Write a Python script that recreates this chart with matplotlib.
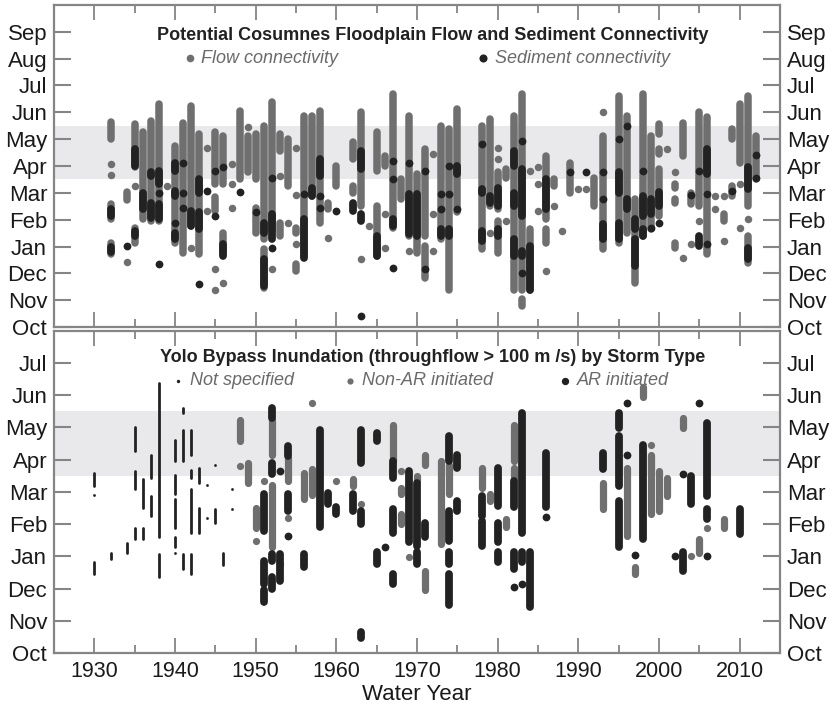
import matplotlib.pyplot as plt
from matplotlib.ticker import MultipleLocator

plt.rcParams["font.family"] = ["Liberation Sans", "DejaVu Sans"]

GRAY = "#6f6f6f"
BLACK = "#222222"
BAND = "#e9e9eb"
FRAME = "#858585"

months = ["Oct", "Nov", "Dec", "Jan", "Feb", "Mar",
          "Apr", "May", "Jun", "Jul", "Aug", "Sep"]

# Cosumnes floodplain: (water year, start, end) in months after 1 Oct,
# single days as (water year, month)
flow_spans = [
    (1932, 7.0, 7.65), (1932, 4.02, 4.58), (1932, 2.71, 3.15),
    (1934, 4.74, 5.04), (1935, 5.95, 7.56), (1935, 3.15, 3.71),
    (1936, 4.02, 7.25), (1937, 3.95, 7.69), (1938, 3.95, 8.31),
    (1940, 3.15, 6.75), (1941, 2.77, 7.62), (1942, 3.77, 8.25),
    (1943, 2.71, 7.19), (1945, 5.32, 7.25), (1945, 4.33, 4.83),
    (1946, 5.32, 7.13), (1946, 2.77, 3.52), (1948, 5.51, 8.06),
    (1949, 5.76, 7.13), (1950, 5.51, 7.19), (1950, 3.52, 4.45),
    (1951, 3.27, 7.5), (1951, 1.47, 2.9), (1952, 3.6, 8.4),
    (1953, 6.57, 7.19), (1953, 3.4, 3.89), (1954, 5.26, 7.0),
    (1955, 3.52, 3.71), (1955, 2.09, 2.34), (1956, 2.65, 7.87),
    (1957, 4.89, 7.87), (1958, 3.89, 8.06), (1959, 4.39, 4.64),
    (1960, 5.26, 6.0), (1962, 6.26, 6.88), (1962, 5.0, 5.26),
    (1963, 4.52, 8.0), (1965, 5.82, 7.25), (1965, 2.65, 4.52),
    (1966, 6.0, 6.38), (1967, 3.71, 8.7), (1968, 4.76, 5.51),
    (1969, 3.4, 7.87), (1970, 2.77, 5.7), (1971, 3.4, 6.63),
    (1971, 1.84, 3.02), (1973, 3.27, 7.5), (1974, 1.4, 7.38),
    (1975, 4.27, 8.12), (1978, 2.9, 7.5), (1979, 4.52, 7.75),
    (1980, 4.39, 5.76), (1980, 2.77, 3.95), (1981, 5.57, 5.88),
    (1982, 1.4, 7.87), (1983, 1.4, 8.7), (1983, 0.78, 1.03),
    (1984, 1.4, 3.64), (1986, 4.02, 6.38), (1986, 3.15, 3.64),
    (1987, 5.26, 5.51), (1989, 5.0, 6.13), (1992, 4.52, 5.57),
    (1993, 2.9, 7.13), (1995, 3.15, 8.62), (1996, 3.52, 7.87),
    (1997, 1.65, 4.76), (1998, 3.4, 8.7), (1999, 3.64, 7.13),
    (2000, 7.19, 7.56), (2000, 6.44, 6.63), (2000, 4.14, 5.88),
    (2002, 5.2, 5.32), (2002, 4.64, 4.76), (2002, 2.96, 3.15),
    (2003, 6.38, 7.62), (2004, 4.58, 5.0), (2005, 4.52, 8.0),
    (2006, 2.71, 7.81), (2008, 3.95, 4.2), (2009, 7.0, 7.38),
    (2009, 4.89, 5.26), (2010, 6.13, 8.31), (2011, 4.52, 8.62),
    (2011, 2.4, 3.4), (2012, 5.51, 7.13),
]
flow_days = [
    (1932, 6.07), (1932, 5.67), (1934, 2.44), (1935, 5.26), (1939, 5.26),
    (1942, 2.96), (1944, 6.67), (1944, 4.33), (1945, 2.15), (1945, 1.4),
    (1946, 1.65), (1947, 6.07), (1947, 5.32), (1947, 4.45), (1949, 7.44),
    (1952, 2.15), (1953, 5.63), (1954, 3.89), (1955, 6.69), (1955, 4.91),
    (1955, 3.08), (1959, 3.33), (1963, 2.52), (1964, 3.77), (1966, 4.2),
    (1966, 2.96), (1969, 2.84), (1972, 6.44), (1972, 4.2), (1972, 2.84),
    (1979, 3.52), (1980, 6.69), (1980, 6.26), (1981, 3.95), (1984, 5.8),
    (1985, 5.95), (1985, 5.32), (1985, 4.33), (1986, 2.09), (1987, 4.52),
    (1988, 3.58), (1990, 5.14), (1991, 5.14), (1993, 8.0), (2001, 6.65),
    (2002, 5.76), (2003, 2.56), (2004, 3.08), (2005, 3.95), (2007, 4.89),
    (2007, 4.39), (2008, 4.89), (2008, 3.21), (2010, 5.32), (2010, 3.71),
    (2011, 4.02),
]
sediment_spans = [
    (1932, 4.14, 4.4), (1932, 2.8, 3.0), (1935, 6.0, 6.63), (1935, 3.4, 3.58),
    (1936, 4.39, 5.0), (1937, 5.63, 5.76), (1937, 4.08, 4.64),
    (1938, 5.32, 5.82), (1938, 4.02, 4.58), (1940, 5.82, 6.13),
    (1940, 4.89, 5.07), (1940, 3.27, 3.52), (1942, 3.77, 4.33),
    (1943, 5.0, 5.51), (1943, 3.64, 4.27), (1946, 2.65, 3.08),
    (1951, 3.52, 3.89), (1951, 1.53, 2.52), (1952, 3.3, 4.2),
    (1956, 2.59, 4.02), (1957, 4.89, 5.2), (1958, 5.63, 6.26),
    (1962, 4.33, 4.64), (1963, 5.88, 6.57), (1963, 3.95, 4.2),
    (1965, 2.65, 3.4), (1967, 3.77, 4.02), (1969, 3.46, 4.95),
    (1970, 3.4, 4.95), (1973, 3.4, 3.64), (1974, 3.4, 3.64),
    (1975, 5.7, 6.01), (1978, 5.0, 5.14), (1978, 3.21, 3.58),
    (1979, 4.64, 4.89), (1980, 4.52, 5.2), (1980, 3.4, 3.64),
    (1982, 6.01, 6.57), (1982, 4.52, 5.0), (1982, 2.65, 3.27),
    (1983, 4.14, 5.88), (1983, 2.65, 2.84), (1984, 1.4, 3.02),
    (1986, 4.39, 5.51), (1993, 3.27, 3.83), (1995, 5.0, 5.76),
    (1995, 3.27, 3.89), (1996, 4.39, 4.76), (1997, 3.64, 4.02),
    (1997, 2.28, 3.27), (1998, 4.14, 4.89), (1998, 3.4, 3.64),
    (1999, 4.2, 4.76), (2000, 4.52, 5.02), (2005, 3.02, 3.4),
    (2006, 5.7, 6.63), (2011, 5.14, 5.95), (2011, 2.52, 2.96),
]
sediment_days = [
    (1934, 3.02), (1938, 5.0), (1938, 2.34), (1940, 3.89), (1941, 6.1),
    (1941, 5.0), (1941, 4.45), (1943, 1.59), (1944, 5.07), (1945, 5.82),
    (1945, 4.14), (1946, 5.95), (1948, 5.05), (1950, 4.27), (1952, 5.57),
    (1952, 2.95), (1956, 4.95), (1958, 4.89), (1958, 4.45), (1960, 4.33),
    (1963, 0.43), (1967, 6.19), (1967, 5.51), (1967, 2.21), (1969, 6.13),
    (1971, 5.82), (1971, 2.15), (1973, 4.95), (1973, 4.39), (1974, 6.01),
    (1974, 4.95), (1975, 4.39), (1978, 6.82), (1983, 6.94), (1983, 2.03),
    (1989, 5.78), (1991, 5.78), (1993, 5.78), (1993, 4.76), (1995, 7.0),
    (1996, 7.5), (1998, 5.82), (1999, 3.71), (2000, 3.86), (2004, 4.91),
    (2005, 5.82), (2006, 4.95), (2006, 3.08), (2009, 5.07), (2012, 6.41),
    (2012, 5.57),
]

# Yolo Bypass inundation by storm type
unspecified_spans = [
    (1930, 5.18, 5.59), (1930, 2.45, 2.81), (1932, 2.92, 3.09),
    (1934, 3.09, 3.4), (1935, 6.26, 7.03), (1935, 5.08, 5.64),
    (1935, 3.53, 3.89), (1936, 4.51, 5.39), (1936, 3.53, 3.89),
    (1937, 5.44, 6.16), (1937, 4.25, 4.87), (1938, 3.59, 8.37),
    (1938, 2.36, 3.08), (1940, 5.95, 6.62), (1940, 4.92, 5.54),
    (1940, 3.89, 4.77), (1940, 3.28, 3.59), (1941, 7.44, 7.62),
    (1941, 5.95, 6.93), (1941, 2.61, 3.07), (1942, 6.16, 6.93),
    (1942, 5.44, 5.69), (1942, 3.74, 5.08), (1942, 2.45, 3.07),
    (1943, 5.28, 5.75), (1943, 3.74, 4.51), (1945, 4.05, 4.46),
    (1946, 2.72, 3.1),
]
unspecified_days = [
    (1930, 4.9), (1940, 3.09), (1944, 5.2), (1944, 4.19), (1945, 5.85),
    (1947, 5.08), (1947, 4.46),
]
non_ar_spans = [
    (1948, 6.57, 7.24), (1949, 5.29, 5.91), (1950, 3.89, 4.51),
    (1952, 6.16, 7.24), (1952, 3.28, 5.23), (1954, 5.34, 6.06),
    (1956, 4.77, 5.59), (1957, 4.9, 5.7), (1962, 5.18, 5.39),
    (1967, 5.95, 7.08), (1968, 4.92, 5.13), (1968, 4.0, 4.3),
    (1970, 5.34, 5.49), (1971, 5.85, 6.16), (1971, 1.94, 2.56),
    (1973, 3.38, 5.95), (1974, 4.93, 5.85), (1978, 5.13, 5.75),
    (1979, 4.72, 4.93), (1981, 3.9, 4.16), (1982, 5.96, 7.09),
    (1982, 5.44, 5.75), (1993, 4.46, 5.29), (1996, 3.64, 5.75),
    (1997, 2.45, 2.66), (1998, 7.96, 8.27), (1999, 4.3, 6.16),
    (2000, 4.41, 5.64), (2001, 4.87, 5.44), (2003, 6.98, 7.29),
    (2005, 3.1, 3.55), (2008, 3.89, 4.15),
]
non_ar_days = [
    (1948, 5.8), (1950, 3.48), (1951, 5.34), (1953, 2.76), (1954, 4.2),
    (1957, 7.75), (1960, 5.34), (1963, 4.61), (1968, 5.64), (1969, 2.97),
    (1999, 6.47), (2004, 3.02), (2006, 3.89),
]
ar_spans = [
    (1951, 3.8, 4.93), (1951, 2.15, 2.87), (1951, 1.58, 1.95),
    (1952, 7.3, 7.6), (1952, 5.55, 5.9), (1952, 2.87, 3.08),
    (1952, 2.0, 2.36), (1953, 2.25, 3.08), (1954, 6.11, 6.42),
    (1954, 4.41, 4.93), (1956, 2.67, 3.08), (1958, 3.9, 6.93),
    (1959, 4.62, 4.98), (1960, 4.31, 4.52), (1962, 4.41, 4.93),
    (1963, 5.9, 6.93), (1963, 4.0, 4.41), (1963, 0.45, 0.66),
    (1965, 6.57, 6.83), (1965, 2.77, 3.13), (1967, 5.44, 5.96),
    (1967, 3.74, 4.46), (1967, 2.15, 2.46), (1969, 3.44, 5.65),
    (1970, 3.33, 5.28), (1970, 2.76, 3.12), (1971, 3.59, 4.05),
    (1974, 5.96, 6.73), (1974, 3.49, 4.41), (1974, 2.77, 3.13),
    (1974, 1.48, 2.46), (1975, 5.75, 6.16), (1975, 4.41, 4.72),
    (1978, 4.26, 4.88), (1978, 3.33, 4.1), (1980, 4.57, 5.75),
    (1980, 3.44, 4.05), (1980, 2.82, 3.13), (1982, 4.52, 5.34),
    (1982, 2.61, 3.13), (1983, 3.74, 7.45), (1983, 2.81, 3.13),
    (1984, 1.43, 3.13), (1986, 4.52, 6.21), (1993, 5.7, 6.21),
    (1995, 6.99, 7.45), (1995, 5.18, 6.73), (1995, 3.28, 4.72),
    (1998, 3.53, 6.47), (2003, 2.56, 3.12), (2004, 4.61, 5.49),
    (2006, 4.87, 7.13), (2006, 4.15, 4.46), (2010, 3.69, 4.46),
]
ar_days = [
    (1953, 5.65), (1954, 3.64), (1966, 3.28), (1982, 2.05), (1983, 2.15),
    (1986, 4.21), (1996, 7.75), (1996, 6.14), (1997, 3.05), (2002, 3.02),
    (2003, 5.56), (2005, 7.75), (2006, 3.02),
]


def draw_events(ax, spans, days, color, width, zorder):
    years, start, end = zip(*spans)
    ax.vlines(years, start, end, colors=color, linewidths=width,
              capstyle="round", zorder=zorder)
    years, when = zip(*days)
    ax.scatter(years, when, s=width ** 2, color=color, linewidths=0,
               zorder=zorder)


def style_axis(ax, labels, top):
    ax.set_xlim(1925, 2015)
    ax.set_ylim(0, top)
    ax.axhspan(5.5, 7.5, color=BAND, lw=0, zorder=0)
    ax.set_yticks(range(len(labels)))
    ax.set_yticklabels(labels)
    ax.xaxis.set_major_locator(MultipleLocator(10))
    ax.xaxis.set_minor_locator(MultipleLocator(5))
    ax.tick_params(axis="both", which="both", direction="in", top=True,
                   right=True, labelright=True, color=FRAME,
                   labelcolor="#1a1a1a")
    ax.tick_params(axis="y", length=12, width=1.5, labelsize=16, pad=5)
    ax.tick_params(axis="x", which="major", length=11, width=1.3,
                   labelsize=15.5, pad=6)
    ax.tick_params(axis="x", which="minor", length=6, width=1.3)
    for spine in ax.spines.values():
        spine.set_color(FRAME)
        spine.set_linewidth(1.6)


def legend_entry(ax, x, y, label, dot_color, dot_size):
    ax.scatter([x], [y], s=dot_size, color=dot_color, linewidths=0,
               transform=ax.transAxes, clip_on=False, zorder=5)
    ax.text(x + 0.016, y, label, transform=ax.transAxes, fontsize=13,
            style="italic", color="#6a6a6a", va="center", ha="left")


fig = plt.figure(figsize=(8.32, 7.08), dpi=100)
ax1 = fig.add_axes([0.065, 0.538, 0.8725, 0.455])
ax2 = fig.add_axes([0.065, 0.0777, 0.8725, 0.455])

style_axis(ax1, months, 12)
style_axis(ax2, months[:10], 10)
ax1.tick_params(axis="x", labelbottom=False)

draw_events(ax1, flow_spans, flow_days, GRAY, 5.4, 2)
draw_events(ax1, sediment_spans, sediment_days, BLACK, 5.6, 3)

draw_events(ax2, unspecified_spans, unspecified_days, BLACK, 2.0, 3)
draw_events(ax2, non_ar_spans, non_ar_days, GRAY, 5.2, 2)
draw_events(ax2, ar_spans, ar_days, BLACK, 5.6, 3)

ax1.text(0.521, 0.904,
         "Potential Cosumnes Floodplain Flow and Sediment Connectivity",
         transform=ax1.transAxes, ha="center", va="center", fontsize=13,
         fontweight="bold", color="#222222")
legend_entry(ax1, 0.187, 0.835, "Flow connectivity", GRAY, 30)
legend_entry(ax1, 0.591, 0.835, "Sediment connectivity", BLACK, 34)

ax2.text(0.522, 0.916,
         "Yolo Bypass Inundation (throughflow > 100 m /s) by Storm Type",
         transform=ax2.transAxes, ha="center", va="center", fontsize=13,
         fontweight="bold", color="#222222")
legend_entry(ax2, 0.171, 0.845, "Not specified", BLACK, 6)
legend_entry(ax2, 0.408, 0.845, "Non-AR initiated", GRAY, 20)
legend_entry(ax2, 0.704, 0.845, "AR initiated", BLACK, 28)

ax2.set_xlabel("Water Year", fontsize=16, color="#1a1a1a", labelpad=1)

fig.savefig("out.png", dpi=100)
